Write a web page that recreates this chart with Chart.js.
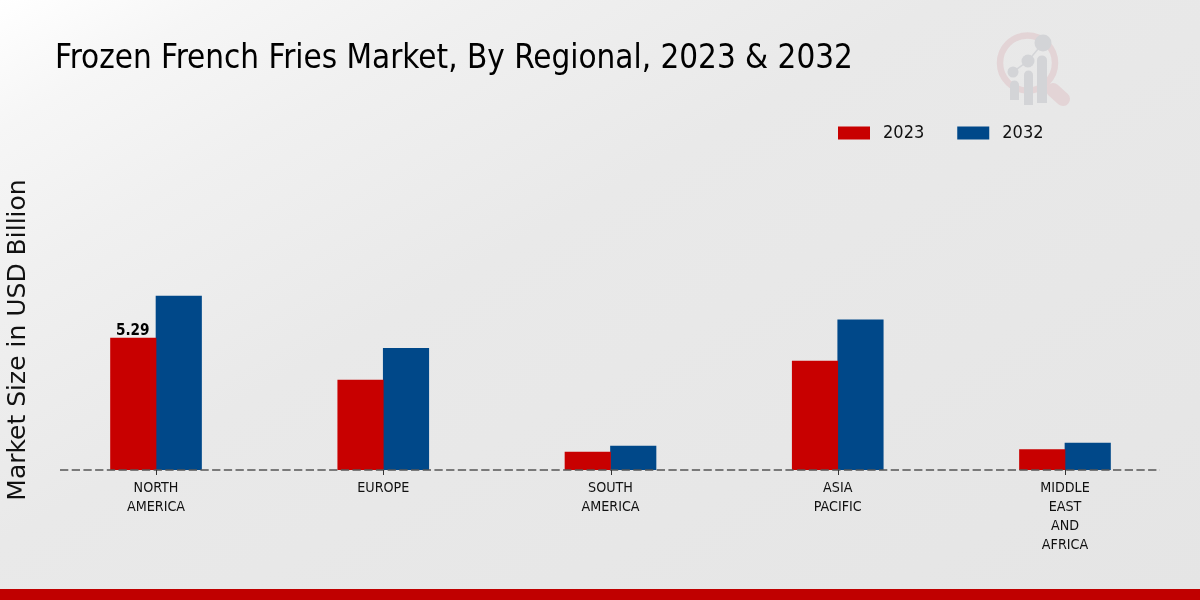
<!DOCTYPE html>
<html><head><meta charset="utf-8">
<script src="https://cdn.jsdelivr.net/npm/chart.js@4"></script>
<style>
html,body{margin:0;padding:0;width:1200px;height:600px;overflow:hidden;background:#e8e8e8}
#wrap{position:relative;width:1200px;height:600px;background:linear-gradient(150deg,#ffffff 0%,#f6f6f6 10%,#f0f0f0 22%,#e9e9e9 42%,#e7e7e7 70%,#e5e5e5 100%)}
canvas{position:absolute;left:0;top:0}
#logo{position:absolute;left:990px;top:28px}
#band{position:absolute;left:0;top:589px;width:1200px;height:11px;background:#c00000}
</style></head><body>
<div id="wrap">
<svg id="logo" width="90" height="85" viewBox="0 0 90 85">
<circle cx="37.500" cy="35" r="27.500" fill="none" stroke="#e3d4d6" stroke-width="6.500"/>
<path d="M63 62 L73 71" stroke="#e3d4d6" stroke-width="14" stroke-linecap="round"/>
<polyline points="23,44 38,33 53,15" fill="none" stroke="#d4d5d8" stroke-width="1.500"/>
<circle cx="23" cy="44" r="5.500" fill="#d3d4d7"/><circle cx="38" cy="33" r="6.500" fill="#d3d4d7"/><circle cx="53" cy="15" r="8.500" fill="#d3d4d7"/>
<path d="M20 72V57a4.500 4.500 0 0 1 9 0V72Z" fill="#d3d4d7"/><path d="M34 77V47a4.500 4.500 0 0 1 9 0V77Z" fill="#d3d4d7"/><path d="M47 75V32a5 4.500 0 0 1 10 0V75Z" fill="#d3d4d7"/>
</svg>
<canvas id="c" width="1200" height="600"></canvas>
<div id="band"></div>
</div>
<script>
const categories = [["NORTH","AMERICA"],["EUROPE"],["SOUTH","AMERICA"],["ASIA","PACIFIC"],["MIDDLE","EAST","AND","AFRICA"]];
const values2023 = [5.29,3.60,0.72,4.37,0.82];
const values2032 = [6.97,4.88,0.96,6.02,1.08];
const titleText = "Frozen French Fries Market, By Regional, 2023 & 2032";
const yTitle = "Market Size in USD Billion";
const condensed = '"DejaVu Sans Condensed","DejaVu Sans"';

const baseline = {
  id:'baseline',
  afterDatasetsDraw(chart){
    const {ctx,scales:{x,y}} = chart, y0 = y.getPixelForValue(0);
    ctx.save();
    ctx.strokeStyle='#555'; ctx.lineWidth=1.3; ctx.setLineDash([8.3,3.4]);
    ctx.beginPath(); ctx.moveTo(x.getPixelForValue(-0.4225),y0); ctx.lineTo(x.getPixelForValue(4.418),y0); ctx.stroke();
    ctx.setLineDash([]); ctx.strokeStyle='#333'; ctx.lineWidth=1;
    categories.forEach((c,i)=>{const p=Math.round(x.getPixelForValue(i))+.5; ctx.beginPath(); ctx.moveTo(p,y0); ctx.lineTo(p,y0+5); ctx.stroke();});
    const bar = chart.getDatasetMeta(0).data[0];
    ctx.fillStyle='#000'; ctx.font='bold 15.2px '+condensed; ctx.textAlign='center'; ctx.textBaseline='bottom';
    ctx.fillText(values2023[0].toFixed(2),bar.x-.5,bar.y+.5);
    ctx.restore();
  }
};

new Chart(document.getElementById('c'),{
  type:'bar',
  data:{labels:categories,datasets:[
    {label:'2023',data:values2023,backgroundColor:'#c80000',borderWidth:0,barThickness:45.5},
    {label:'2032',data:values2032,backgroundColor:'#004889',borderWidth:0,barThickness:45.5}
  ]},
  options:{
    responsive:false,animation:false,devicePixelRatio:1,
    layout:{padding:{left:0,right:21.4,top:209,bottom:0}},
    plugins:{
      tooltip:{enabled:false},
      title:{display:false},
      legend:{display:true,position:'top',align:'start',maxHeight:1,
        labels:{boxWidth:32,boxHeight:13,padding:33,color:'#111',font:{family:condensed,size:18},
          generateLabels(chart){return Chart.defaults.plugins.legend.labels.generateLabels(chart).map(l=>({...l,text:'\u2005'+l.text,lineWidth:0}));}}}
    },
    scales:{
      x:{grid:{display:false,drawTicks:false},border:{display:false},
        afterFit(s){s.height=130;},
        ticks:{color:'#111',font:{family:condensed,size:14.2,lineHeight:1.34},maxRotation:0,minRotation:0,autoSkip:false,padding:8.5}},
      y:{min:0,max:10.42,display:true,grid:{display:false,drawTicks:false},border:{display:false},ticks:{display:false},
        afterFit(s){s.width=42.4;},
        title:{display:true,text:yTitle,color:'#111',font:{family:'"DejaVu Sans"',size:25},padding:{top:3.5,bottom:0}}}
    }
  },
  plugins:[baseline,{
    id:'titleText',
    beforeDraw(chart){const c=chart.ctx;c.save();c.fillStyle='#000';c.font='32.9px '+condensed;c.textBaseline='alphabetic';c.textAlign='left';
      c.fillText(titleText,55,68);c.restore();},
    afterLayout(chart){const l=chart.legend; if(!l)return;
      l.left=805;l.right=1200;l.top=91;l.bottom=200;}
  }]
});
</script>
</body></html>
